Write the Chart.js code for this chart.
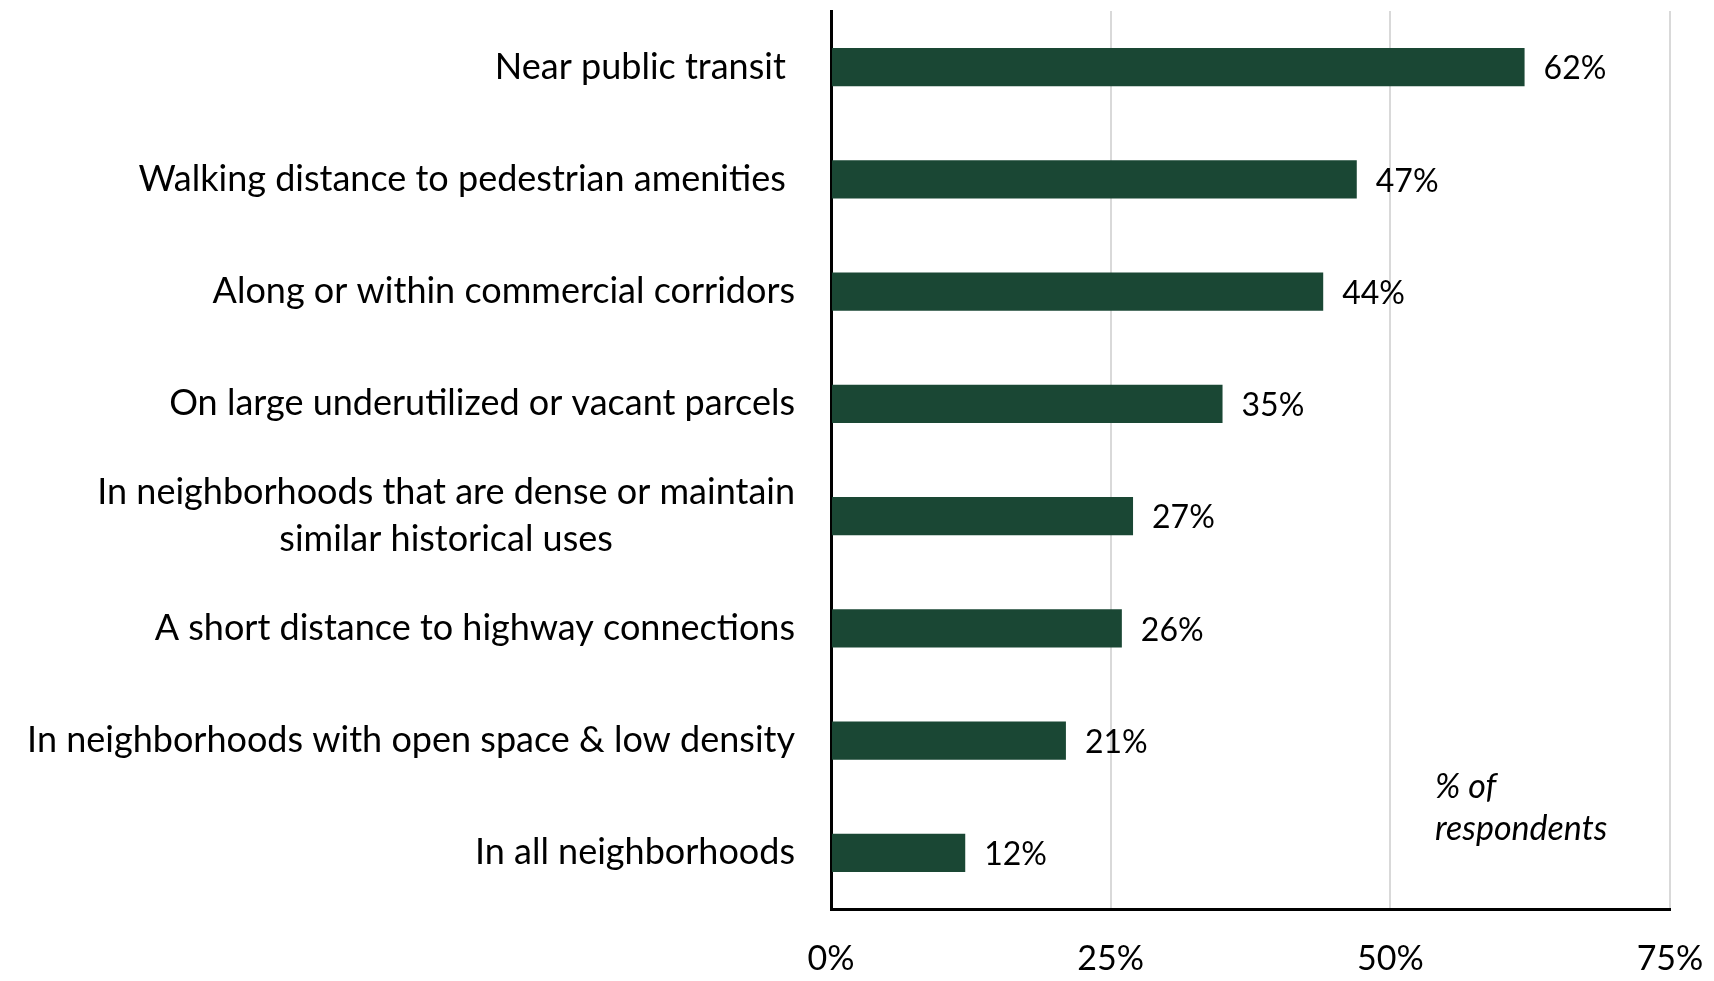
<!DOCTYPE html>
<html>
<head>
<meta charset="utf-8">
<title>Preferred locations</title>
<script src="https://cdn.jsdelivr.net/npm/chart.js@4"></script>
<style>
  html, body { margin: 0; padding: 0; background: #fff; }
  #wrap { width: 1714px; height: 981px; position: relative; }
</style>
</head>
<body>
<div id="wrap"><canvas id="locationChart"></canvas></div>
<script>
// categories, top to bottom (multi-line entries are arrays)
const categories = [
  "Near public transit ",
  "Walking distance to pedestrian amenities ",
  "Along or within commercial corridors",
  "On large underutilized or vacant parcels",
  ["In neighborhoods that are dense or maintain", "similar historical uses"],
  "A short distance to highway connections",
  "In neighborhoods with open space & low density",
  "In all neighborhoods"
];
const respondentShare = [62, 47, 44, 35, 27, 26, 21, 12];
const xTicks = [0, 25, 50, 75];
const axisNote = ["% of", "respondents"];

const FONT = "Lato, 'Open Sans', sans-serif";
const BAR_COLOR = "#1a4734";

// category labels drawn left of the axis, multi-line ones centred on their widest line
const categoryLabels = {
  id: "categoryLabels",
  afterDraw(chart) {
    const ctx = chart.ctx;
    const yScale = chart.scales.y;
    const right = chart.chartArea.left - 36;
    ctx.save();
    ctx.font = "36px " + FONT;
    ctx.fillStyle = "#000";
    ctx.textBaseline = "middle";
    ctx.textAlign = "center";
    categories.forEach((label, i) => {
      const y = yScale.getPixelForTick(i);
      const lines = Array.isArray(label) ? label : [label];
      const widest = Math.max(...lines.map(l => ctx.measureText(l).width));
      const cx = right - widest / 2;
      const lh = 47;
      lines.forEach((line, j) => {
        ctx.fillText(line, cx, y + (j - (lines.length - 1) / 2) * lh);
      });
    });
    ctx.restore();
  }
};

// value labels at the end of each bar, plus the axis note
const valueLabels = {
  id: "valueLabels",
  afterDatasetsDraw(chart) {
    const ctx = chart.ctx;
    const meta = chart.getDatasetMeta(0);
    ctx.save();
    ctx.font = "32px " + FONT;
    ctx.fillStyle = "#000";
    ctx.textAlign = "left";
    ctx.textBaseline = "middle";
    meta.data.forEach((bar, i) => {
      ctx.fillText(respondentShare[i] + "%", bar.x + 19, bar.y + 2);
    });
    const xScale = chart.scales.x;
    const yScale = chart.scales.y;
    ctx.font = "italic 34px " + FONT;
    const nx = xScale.getPixelForValue(54);
    const ny = yScale.getPixelForValue(6.41);
    axisNote.forEach((line, j) => ctx.fillText(line, nx, ny + j * 42));
    ctx.restore();
  }
};

const ctx = document.getElementById("locationChart").getContext("2d");
const locationChart = new Chart(ctx, {
  type: "bar",
  data: {
    labels: categories,
    datasets: [{
      data: respondentShare,
      backgroundColor: BAR_COLOR,
      barPercentage: 0.68,
      categoryPercentage: 0.5
    }]
  },
  options: {
    indexAxis: "y",
    responsive: true,
    maintainAspectRatio: false,
    animation: false,
    layout: { padding: { top: 11, left: 831, right: 44, bottom: 0 } },
    plugins: { legend: { display: false }, tooltip: { enabled: false } },
    scales: {
      x: {
        min: 0,
        max: 75,
        afterBuildTicks(scale) {
          scale.ticks = xTicks.map(v => ({ value: v }));
        },
        afterFit(scale) {
          scale.height = 72;
          scale.paddingLeft = 0;
          scale.paddingRight = 0;
        },
        ticks: {
          callback: v => v + "%",
          font: { size: 34, family: FONT },
          color: "#000",
          padding: 30,
          maxRotation: 0
        },
        grid: { color: "#d9d9d9", lineWidth: 2, drawTicks: false },
        border: { display: true, color: "#000", width: 3 }
      },
      y: {
        ticks: { display: false },
        grid: { display: false, drawTicks: false },
        border: { display: true, color: "#000", width: 3 }
      }
    }
  },
  plugins: [categoryLabels, valueLabels]
});
</script>
</body>
</html>
